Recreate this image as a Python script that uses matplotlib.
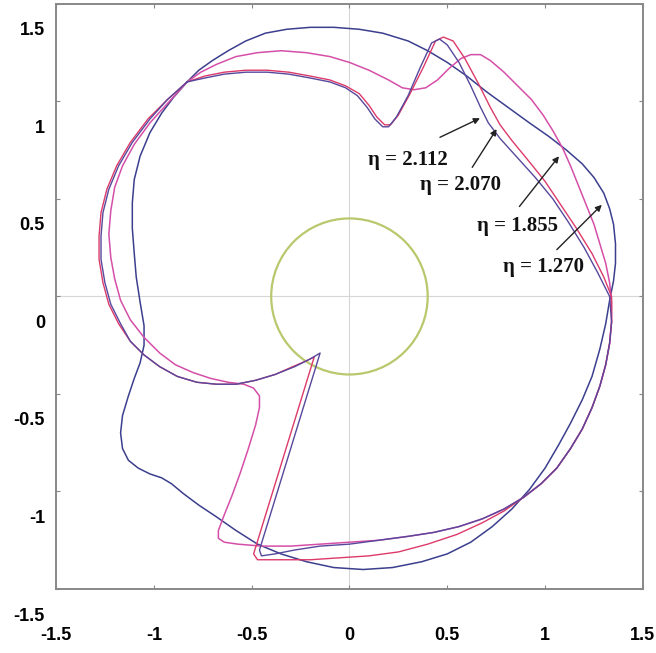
import numpy as np
import matplotlib.pyplot as plt
import matplotlib.transforms as mtransforms
from matplotlib.patches import Circle

# eta = 1.270 (blue)
x_1270 = [-0.83, -0.77, -0.70, -0.62, -0.53, -0.43, -0.32, -0.20, -0.08, 0.05, 0.17, 0.30, 0.40, 0.50, 0.60, 0.70, 0.81, 0.92, 1.02, 1.11,
          1.19, 1.25, 1.30, 1.33, 1.35, 1.36, 1.36, 1.35, 1.33, 1.31, 1.28, 1.24, 1.19, 1.13, 1.07, 1.00, 0.92, 0.83, 0.73, 0.62,
          0.50, 0.37, 0.22, 0.07, -0.08, -0.22, -0.35, -0.47, -0.58, -0.68, -0.77, -0.85, -0.91, -0.96, -1.02, -1.08, -1.13, -1.16, -1.17, -1.16,
          -1.13, -1.10, -1.07, -1.05, -1.05, -1.07, -1.09, -1.10, -1.11, -1.11, -1.10, -1.07, -1.02, -0.96, -0.90, -0.83]
y_1270 = [1.10, 1.16, 1.21, 1.26, 1.31, 1.35, 1.37, 1.38, 1.38, 1.37, 1.35, 1.31, 1.26, 1.20, 1.13, 1.05, 0.97, 0.89, 0.82, 0.75,
          0.68, 0.61, 0.53, 0.45, 0.37, 0.27, 0.17, 0.08, -0.02, -0.14, -0.27, -0.41, -0.53, -0.65, -0.76, -0.88, -0.99, -1.09, -1.18, -1.26,
          -1.32, -1.36, -1.39, -1.40, -1.39, -1.36, -1.32, -1.27, -1.20, -1.13, -1.07, -1.01, -0.96, -0.93, -0.91, -0.88, -0.84, -0.78, -0.70, -0.61,
          -0.51, -0.42, -0.34, -0.25, -0.15, -0.03, 0.10, 0.22, 0.35, 0.48, 0.60, 0.72, 0.84, 0.94, 1.02, 1.10]

# eta = 1.855 (magenta)
x_1855 = [-0.83, -0.76, -0.68, -0.58, -0.47, -0.35, -0.22, -0.10, 0.00, 0.10, 0.20, 0.27, 0.33, 0.39, 0.45, 0.51, 0.57, 0.62, 0.67, 0.72,
          0.79, 0.86, 0.93, 0.99, 1.04, 1.09, 1.13, 1.17, 1.21, 1.25, 1.28, 1.31, 1.33, 1.34, 1.34, 1.33, 1.31, 1.28, 1.24, 1.19,
          1.13, 1.06, 0.98, 0.89, 0.79, 0.68, 0.56, 0.43, 0.30, 0.15, 0.00, -0.15, -0.30, -0.45, -0.57, -0.64, -0.67, -0.67, -0.64, -0.60,
          -0.56, -0.52, -0.48, -0.46, -0.46, -0.49, -0.54, -0.62, -0.71, -0.80, -0.89, -0.97, -1.05, -1.12, -1.17, -1.20, -1.22, -1.23, -1.22, -1.20,
          -1.16, -1.10, -1.02, -0.93, -0.83]
y_1855 = [1.10, 1.15, 1.19, 1.23, 1.25, 1.26, 1.25, 1.23, 1.20, 1.16, 1.11, 1.07, 1.06, 1.07, 1.11, 1.17, 1.22, 1.24, 1.24, 1.21,
          1.15, 1.08, 1.01, 0.93, 0.85, 0.76, 0.67, 0.57, 0.47, 0.37, 0.27, 0.17, 0.07, -0.03, -0.13, -0.24, -0.35, -0.46, -0.57, -0.68,
          -0.78, -0.88, -0.96, -1.03, -1.09, -1.14, -1.18, -1.21, -1.23, -1.25, -1.26, -1.27, -1.28, -1.28, -1.27, -1.26, -1.24, -1.20, -1.12, -1.02,
          -0.91, -0.79, -0.66, -0.57, -0.51, -0.47, -0.45, -0.44, -0.42, -0.39, -0.35, -0.29, -0.21, -0.12, -0.02, 0.09, 0.20, 0.32, 0.44, 0.56,
          0.67, 0.78, 0.89, 0.99, 1.10]

# eta = 2.070 (red)
x_2070 = [-0.83, -0.74, -0.64, -0.53, -0.42, -0.31, -0.20, -0.10, -0.02, 0.05, 0.10, 0.14, 0.18, 0.21, 0.25, 0.31, 0.38, 0.44, 0.48, 0.53,
          0.59, 0.66, 0.72, 0.77, 0.83, 0.92, 1.00, 1.08, 1.16, 1.24, 1.30, 1.34, 1.34, 1.33, 1.31, 1.28, 1.24, 1.19, 1.13, 1.06,
          0.98, 0.89, 0.79, 0.68, 0.55, 0.40, 0.25, 0.10, -0.05, -0.20, -0.35, -0.47, -0.49, -0.18, -0.22, -0.29, -0.38, -0.48, -0.58, -0.68,
          -0.78, -0.88, -0.97, -1.05, -1.12, -1.18, -1.23, -1.26, -1.28, -1.28, -1.27, -1.24, -1.19, -1.12, -1.03, -0.93, -0.83]
y_2070 = [1.10, 1.13, 1.15, 1.16, 1.16, 1.15, 1.13, 1.11, 1.08, 1.04, 0.98, 0.92, 0.88, 0.88, 0.93, 1.04, 1.18, 1.31, 1.33, 1.31,
          1.22, 1.09, 0.97, 0.88, 0.80, 0.69, 0.59, 0.47, 0.35, 0.22, 0.10, 0.00, -0.13, -0.24, -0.35, -0.46, -0.57, -0.68, -0.78, -0.88,
          -0.96, -1.03, -1.10, -1.16, -1.22, -1.27, -1.31, -1.33, -1.34, -1.35, -1.35, -1.35, -1.32, -0.31, -0.33, -0.36, -0.40, -0.43, -0.45, -0.45,
          -0.44, -0.41, -0.36, -0.30, -0.23, -0.14, -0.04, 0.07, 0.19, 0.31, 0.43, 0.55, 0.67, 0.79, 0.91, 1.01, 1.10]

# eta = 2.112 (blue-violet)
x_2112 = [-0.83, -0.74, -0.64, -0.53, -0.42, -0.31, -0.20, -0.10, -0.02, 0.04, 0.09, 0.13, 0.17, 0.20, 0.24, 0.30, 0.36, 0.42, 0.46, 0.50,
          0.56, 0.62, 0.67, 0.71, 0.77, 0.86, 0.95, 1.04, 1.12, 1.20, 1.27, 1.33, 1.34, 1.33, 1.31, 1.28, 1.24, 1.19, 1.13, 1.06,
          0.98, 0.89, 0.79, 0.68, 0.56, 0.43, 0.30, 0.15, 0.00, -0.15, -0.28, -0.38, -0.45, -0.46, -0.15, -0.20, -0.28, -0.38, -0.48, -0.58,
          -0.68, -0.78, -0.88, -0.97, -1.05, -1.12, -1.17, -1.22, -1.25, -1.27, -1.27, -1.26, -1.23, -1.18, -1.11, -1.02, -0.93, -0.83]
y_2112 = [1.10, 1.12, 1.14, 1.15, 1.15, 1.14, 1.12, 1.10, 1.07, 1.03, 0.97, 0.91, 0.87, 0.87, 0.92, 1.03, 1.17, 1.30, 1.32, 1.29,
          1.20, 1.08, 0.97, 0.89, 0.81, 0.71, 0.61, 0.50, 0.38, 0.25, 0.12, 0.00, -0.13, -0.24, -0.35, -0.46, -0.57, -0.68, -0.78, -0.88,
          -0.96, -1.03, -1.09, -1.14, -1.18, -1.21, -1.23, -1.25, -1.27, -1.28, -1.30, -1.32, -1.33, -1.30, -0.29, -0.32, -0.36, -0.40, -0.43, -0.45,
          -0.45, -0.44, -0.41, -0.36, -0.30, -0.23, -0.14, -0.04, 0.07, 0.19, 0.31, 0.43, 0.55, 0.67, 0.79, 0.91, 1.01, 1.10]

circle_r = 0.4

# annotation: label, text position, arrow tail, arrow tip
eta_labels = ['η = 2.112', 'η = 2.070', 'η = 1.855', 'η = 1.270']
text_x = [0.30, 0.57, 0.86, 0.99]
text_y = [0.70, 0.57, 0.36, 0.15]
tail_x = [0.45, 0.62, 0.86, 1.05]
tail_y = [0.81, 0.65, 0.45, 0.23]
tip_x = [0.68, 0.76, 1.08, 1.30]
tip_y = [0.92, 0.87, 0.73, 0.48]

ticks = [-1.5, -1, -0.5, 0, 0.5, 1, 1.5]
tick_labels = ['-1.5', '-1', '-0.5', '0', '0.5', '1', '1.5']

fig = plt.figure(figsize=(6.56, 6.53), dpi=100)
ax = fig.add_axes([0.0854, 0.098, 0.8946, 0.896])

ax.axhline(0, color='#d6d6d6', lw=0.8, zorder=0)
ax.axvline(0, color='#d6d6d6', lw=0.8, zorder=0)

ax.add_patch(Circle((0, 0), circle_r, fill=False, ec='#b9c86c', lw=1.6))

ax.plot(x_1270, y_1270, color='#3b3f8e', lw=1.1)
ax.plot(x_1855, y_1855, color='#d54fa8', lw=1.1)
ax.plot(x_2070, y_2070, color='#dc3a6a', lw=1.0)
ax.plot(x_2112, y_2112, color='#57489c', lw=1.0)

for i in range(len(eta_labels)):
    ax.annotate('', xy=(tip_x[i], tip_y[i]), xytext=(tail_x[i], tail_y[i]),
                arrowprops=dict(arrowstyle='-|>', color='#222222', lw=1.0, mutation_scale=9))
    ax.text(text_x[i], text_y[i], eta_labels[i], ha='center', va='center', fontsize=15,
            fontweight='bold', family=['Liberation Serif', 'DejaVu Serif'], color='#111111')

ax.set_xlim(-1.5, 1.5)
ax.set_ylim(-1.5, 1.5)
ax.set_xticks(ticks)
ax.set_yticks(ticks)
ax.set_xticklabels(tick_labels)
ax.set_yticklabels(tick_labels)
ax.tick_params(direction='in', length=3, width=0.8, color='#888888', top=True, right=True,
               labelsize=13)
ax.tick_params(axis='x', pad=27)
ax.tick_params(axis='y', pad=8)
for lab in ax.get_xticklabels() + ax.get_yticklabels():
    lab.set_fontweight('bold')
    lab.set_family('Liberation Sans')

# y labels sit lower than their ticks in the original
shift = mtransforms.ScaledTranslation(0, -0.25, fig.dpi_scale_trans)
for t in ax.yaxis.get_major_ticks():
    t.label1.set_transform(t.label1.get_transform() + shift)

for s in ax.spines.values():
    s.set_color('#888888')
    s.set_linewidth(1.4)

fig.savefig('out.png', dpi=100)
